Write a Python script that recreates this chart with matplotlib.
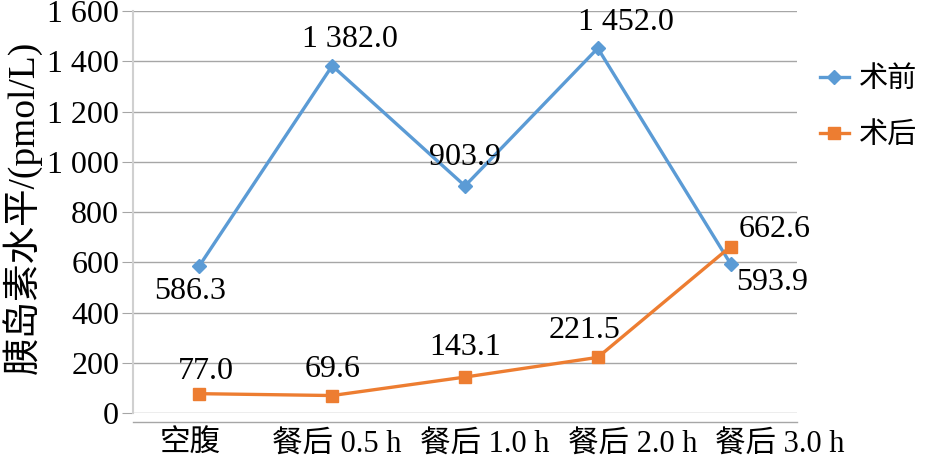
import matplotlib
matplotlib.use("Agg")
import matplotlib.pyplot as plt
import matplotlib.transforms as mtransforms

plt.rcParams['font.family'] = ['Liberation Serif', 'Noto Sans CJK SC']

categories = ["空腹", "餐后 0.5 h", "餐后 1.0 h", "餐后 2.0 h", "餐后 3.0 h"]
before = [586.3, 1382.0, 903.9, 1452.0, 593.9]
after = [77.0, 69.6, 143.1, 221.5, 662.6]
yticks = [0, 200, 400, 600, 800, 1000, 1200, 1400, 1600]

def fmt(v):
    s = "{:,.1f}".format(v)
    return s.replace(",", " ")

fig = plt.figure(figsize=(9.25, 4.71), dpi=100)
ax = fig.add_axes([0.1438, 0.1231, 0.7178, 0.8535])

x = list(range(len(categories)))
blue = "#5B9BD5"
orange = "#ED7D31"
ax.plot(x, before, color=blue, lw=2.4, marker="D", ms=7, label="术前", zorder=3)
ax.plot(x, after, color=orange, lw=2.4, marker="s", ms=9, label="术后", zorder=3)

ax.set_xlim(-0.5, 4.5)
ax.set_ylim(0, 1600)
ax.set_yticks(yticks)
ax.set_yticklabels([str(t) if t < 1000 else "{} {:03d}".format(t // 1000, t % 1000) for t in yticks])
ax.set_xticks(x)
ax.set_xticklabels(categories)
ax.grid(axis="y", color="#a6a6a6", lw=1)
ax.set_axisbelow(True)
for s in ["top", "right", "bottom"]:
    ax.spines[s].set_visible(False)
ax.spines["left"].set_color("#d0d0d0")
ax.spines["left"].set_linewidth(1.5)
ax.tick_params(axis="y", length=8, color="#a6a6a6", labelsize=23, pad=2)
ax.tick_params(axis="x", length=0, labelsize=22, pad=12)
ax.plot([0, 1], [-0.0224, -0.0224], transform=ax.transAxes, color="#a6a6a6", lw=1, clip_on=False)

# category labels are spread slightly wider than the points in the original
shifts = [-9, 5, 20, 35, 49]
for lab, sh in zip(ax.get_xticklabels(), shifts):
    lab.set_transform(lab.get_transform() + mtransforms.ScaledTranslation(sh / 100, 0, fig.dpi_scale_trans))

ax.set_ylabel("胰岛素水平/(pmol/L)", fontsize=27)
ax.yaxis.set_label_coords(-0.138, 0.512)

# data labels (offsets in pixels from the marker)
before_off = [(-9, -26), (18, 26), (0, 28), (28, 26), (42, -19)]
after_off = [(6, 22), (0, 26), (0, 30), (-13, 27), (44, 17)]
for i in x:
    dx, dy = before_off[i]
    ax.annotate(fmt(before[i]), (i, before[i]), xytext=(dx, dy), textcoords="offset pixels",
                ha="center", va="center", fontsize=23)
    dx, dy = after_off[i]
    ax.annotate(fmt(after[i]), (i, after[i]), xytext=(dx, dy), textcoords="offset pixels",
                ha="center", va="center", fontsize=23)

ax.legend(loc="center left", bbox_to_anchor=(0.995, 0.76), frameon=False, fontsize=21,
          handlelength=1.0, handletextpad=0.35, labelspacing=1.0)

fig.savefig("out.png", dpi=100)
